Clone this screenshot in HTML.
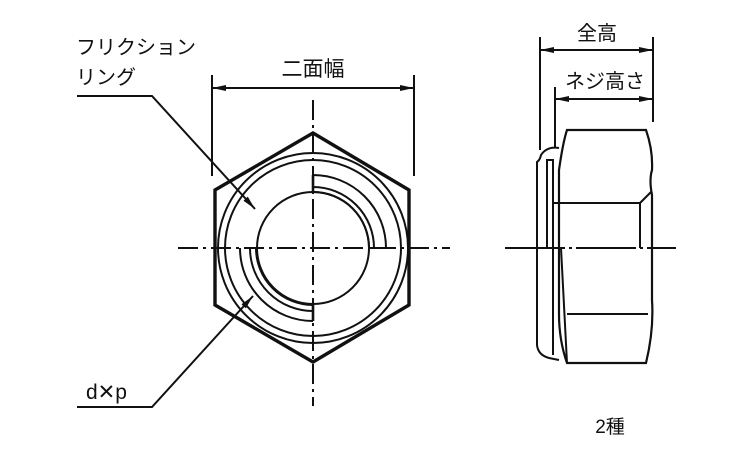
<!DOCTYPE html>
<html><head><meta charset="utf-8"><style>
html,body{margin:0;padding:0;background:#fff;}
svg{display:block;}
text{font-family:"Liberation Sans","Noto Sans CJK JP",sans-serif;fill:#111;}
</style></head><body>
<svg width="750" height="450" viewBox="0 0 750 450" xmlns="http://www.w3.org/2000/svg">
<defs>
<marker id="ar2" viewBox="0 0 14 6" refX="14" refY="3" markerWidth="14" markerHeight="6" orient="auto-start-reverse" markerUnits="userSpaceOnUse">
<path d="M0,0 L14,3 L0,6 Z" fill="#111"/></marker>
</defs>
<g stroke="#111" fill="none" stroke-width="2">
<polyline points="77,96 152,96 255,209" marker-end="url(#ar2)"/>
<polyline points="77,407 152,407 253,296" marker-end="url(#ar2)"/>
<line x1="212" y1="75" x2="212" y2="176"/>
<line x1="414" y1="75" x2="414" y2="176"/>
<line x1="212" y1="88" x2="414" y2="88" marker-start="url(#ar2)" marker-end="url(#ar2)"/>
<polygon points="313,133 409,190 409,305 313,362 215,305 215,190" stroke-width="3.4" stroke-linejoin="miter"/>
<circle cx="313" cy="248" r="95"/>
<circle cx="313" cy="248" r="88"/>
<circle cx="313" cy="248" r="56"/>
<path d="M313,175 A73,73 0 0 1 386,248"/>
<path d="M313,187 A61,61 0 0 1 374,248"/>
<path d="M313,192 A56,56 0 0 1 369,248"/>
<line x1="313" y1="175" x2="313" y2="192" stroke-width="2.6"/>
<line x1="369" y1="248" x2="386" y2="248"/>
<path d="M240,248 A73,73 0 0 0 313,321"/>
<path d="M250,248 A63,63 0 0 0 313,311"/>
<path d="M256,248 A57,57 0 0 0 313,305"/>
<line x1="313" y1="304" x2="313" y2="321" stroke-width="2.6"/>
<line x1="178" y1="248" x2="450" y2="248" stroke-dasharray="20,5,3,5"/>
<line x1="313" y1="100" x2="313" y2="406" stroke-dasharray="20,5,3,5"/>
<line x1="540" y1="37" x2="540" y2="150"/>
<line x1="653" y1="37" x2="653" y2="122"/>
<line x1="555" y1="87" x2="555" y2="147"/>
<line x1="540" y1="50" x2="653" y2="50" marker-start="url(#ar2)" marker-end="url(#ar2)"/>
<line x1="555" y1="99" x2="653" y2="99" marker-start="url(#ar2)" marker-end="url(#ar2)"/>
<path d="M567,130 L646,130 Q653,150 652,170 Q649,180 652,195 L652,300 Q654,330 646,363 L567,363 Q559,340 559,314 L559,170 Q563,142 567,130 Z" stroke-width="2.2"/>
<line x1="553" y1="203" x2="640" y2="203"/>
<line x1="640" y1="203" x2="640" y2="248"/>
<line x1="640" y1="203" x2="651" y2="192"/>
<line x1="567" y1="314" x2="648" y2="314"/>
<line x1="561" y1="248" x2="567" y2="363"/>
<path d="M559,148 Q547,146 541,155 Q540,160 537,162 L537,345 Q538,355 549,358 L559,360"/>
<rect x="547" y="160" width="6" height="88"/>
<line x1="553" y1="160" x2="553" y2="355"/>
<line x1="505" y1="248" x2="676" y2="248" stroke-dasharray="60,4,3,4"/>
</g>
<text x="76" y="54" font-size="20">フリクション</text>
<text x="76" y="84" font-size="20">リング</text>
<text x="313" y="76" font-size="21" text-anchor="middle">二面幅</text>
<text x="86" y="399" font-size="21">d✕p</text>
<text x="597" y="40" font-size="20" text-anchor="middle">全高</text>
<text x="605" y="88" font-size="20" text-anchor="middle">ネジ高さ</text>
<text x="610" y="433" font-size="19" text-anchor="middle">2種</text>
</svg>
</body></html>
